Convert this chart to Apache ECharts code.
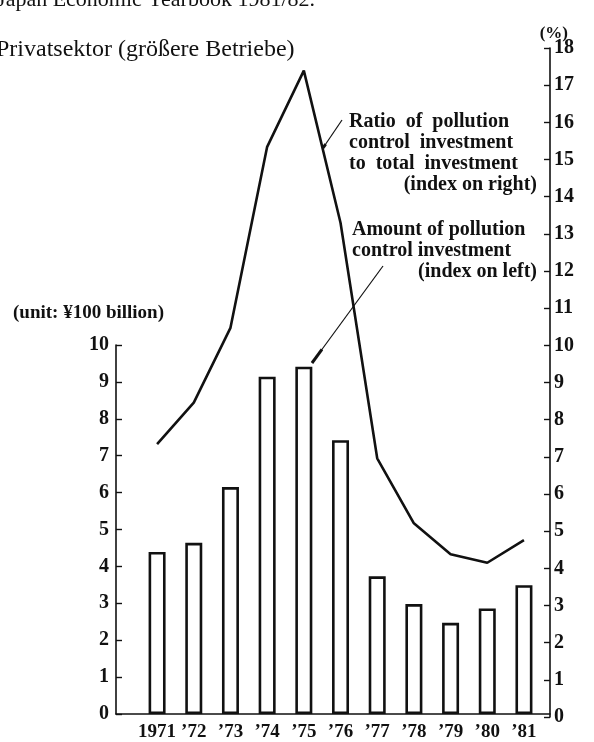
<!doctype html>
<html>
<head>
    <meta charset="utf-8">
    <title>pollution control investment</title>
    <style type="text/css">
        body, html {
            width: 100%;
            height: 100%;
            margin: 0;
            padding: 0;
            background: #fff;
        }
    </style>
    <script src="https://fastly.jsdelivr.net/npm/echarts@6/dist/echarts.min.js"></script>
</head>
<body>
<div id="container" style="width: 594px; height: 742px"></div>
<script type="text/javascript">
    // years on the x axis
    const years = ['1971', '’72', '’73', '’74', '’75', '’76', '’77', '’78', '’79', '’80', '’81'];
    // amount of pollution control investment (unit: ¥100 billion, left axis)
    const amount = [4.39, 4.64, 6.15, 9.14, 9.41, 7.42, 3.73, 2.98, 2.47, 2.86, 3.49];
    // ratio to total investment (%, right axis)
    const ratio = [7.34, 8.46, 10.47, 15.34, 17.39, 13.3, 6.96, 5.21, 4.38, 4.15, 4.76];

    const ink = '#111';
    const serif = '"Liberation Serif", "DejaVu Serif", serif';

    const dom = document.getElementById('container');
    const myChart = echarts.init(dom, null, {renderer: 'canvas'});

    const xMin = -1.12, xMax = 10.71;

    function txt(text, x, y, size, weight, align) {
        return {
            type: 'text',
            style: {
                text: text,
                x: x,
                y: y,
                font: weight + ' ' + size + 'px ' + serif,
                fill: ink,
                textAlign: align || 'left',
                textVerticalAlign: 'middle'
            }
        };
    }

    function leader(x1, y1, x2, y2) {
        // thin line with a heavier tip at the (x2, y2) end
        const tx = x2 + (x1 - x2) * 0.14, ty = y2 + (y1 - y2) * 0.14;
        return [
            {type: 'line', shape: {x1: x1, y1: y1, x2: x2, y2: y2}, style: {stroke: ink, lineWidth: 1.2}},
            {type: 'line', shape: {x1: tx, y1: ty, x2: x2, y2: y2}, style: {stroke: ink, lineWidth: 3}}
        ];
    }

    const option = {
        backgroundColor: '#fff',
        animation: false,
        grid: [
            {left: 116, right: 44, top: 345, bottom: 25},
            {left: 116, right: 44, top: 48, bottom: 25}
        ],
        xAxis: [
            {
                type: 'value',
                gridIndex: 0,
                min: xMin,
                max: xMax,
                axisLine: {show: true, onZero: false, lineStyle: {color: ink, width: 1.6}},
                axisTick: {show: false},
                splitLine: {show: false},
                axisLabel: {
                    customValues: years.map((y, i) => i),
                    formatter: v => years[Math.round(v)],
                    color: ink,
                    fontFamily: serif,
                    fontWeight: 'bold',
                    fontSize: 19,
                    margin: 9,
                    hideOverlap: false
                }
            },
            {
                type: 'value',
                gridIndex: 1,
                min: xMin,
                max: xMax,
                axisLine: {onZero: false},
                show: false
            }
        ],
        yAxis: [
            {
                type: 'value',
                gridIndex: 0,
                min: 0,
                max: 10,
                interval: 1,
                axisLine: {show: true, onZero: false, lineStyle: {color: ink, width: 1.6}},
                axisTick: {show: true, inside: true, length: 6, lineStyle: {color: ink, width: 1.4}},
                splitLine: {show: false},
                axisLabel: {color: ink, fontFamily: serif, fontWeight: 'bold', fontSize: 20, margin: 7}
            },
            {
                type: 'value',
                gridIndex: 1,
                position: 'right',
                min: 0,
                max: 18,
                interval: 1,
                axisLine: {show: true, onZero: false, lineStyle: {color: ink, width: 1.6}},
                axisTick: {show: true, inside: true, length: 6, lineStyle: {color: ink, width: 1.4}},
                splitLine: {show: false},
                axisLabel: {color: ink, fontFamily: serif, fontWeight: 'bold', fontSize: 20, margin: 4}
            }
        ],
        series: [
            {
                name: 'Amount of pollution control investment',
                type: 'bar',
                xAxisIndex: 0,
                yAxisIndex: 0,
                barWidth: 17,
                itemStyle: {color: '#fff', borderColor: ink, borderWidth: 2.6},
                data: amount.map((v, i) => [i, v])
            },
            {
                name: 'Ratio of pollution control investment to total investment',
                type: 'line',
                xAxisIndex: 1,
                yAxisIndex: 1,
                symbol: 'none',
                lineStyle: {color: ink, width: 2.6},
                data: ratio.map((v, i) => [i, v])
            }
        ],
        graphic: [
            txt('Japan Economic Yearbook 1981/82.', 315, 0, 22, 'normal', 'right'),
            txt('Privatsektor (größere Betriebe)', -4, 50, 24, 'normal'),
            txt('(%)', 568, 34, 17, 'bold', 'right'),
            txt('(unit: ¥100 billion)', 13, 313, 19, 'bold'),
            txt('Ratio  of  pollution', 349, 122, 20, 'bold'),
            txt('control  investment', 349, 143, 20, 'bold'),
            txt('to  total  investment', 349, 164, 20, 'bold'),
            txt('(index on right)', 537, 185, 20, 'bold', 'right'),
            txt('Amount of pollution', 352, 230, 20, 'bold'),
            txt('control investment', 352, 251, 20, 'bold'),
            txt('(index on left)', 537, 272, 20, 'bold', 'right')
        ].concat(leader(342, 120, 323, 148), leader(383, 266, 312, 363))
    };

    myChart.setOption(option);
    window.addEventListener('resize', myChart.resize);
</script>
</body>
</html>
